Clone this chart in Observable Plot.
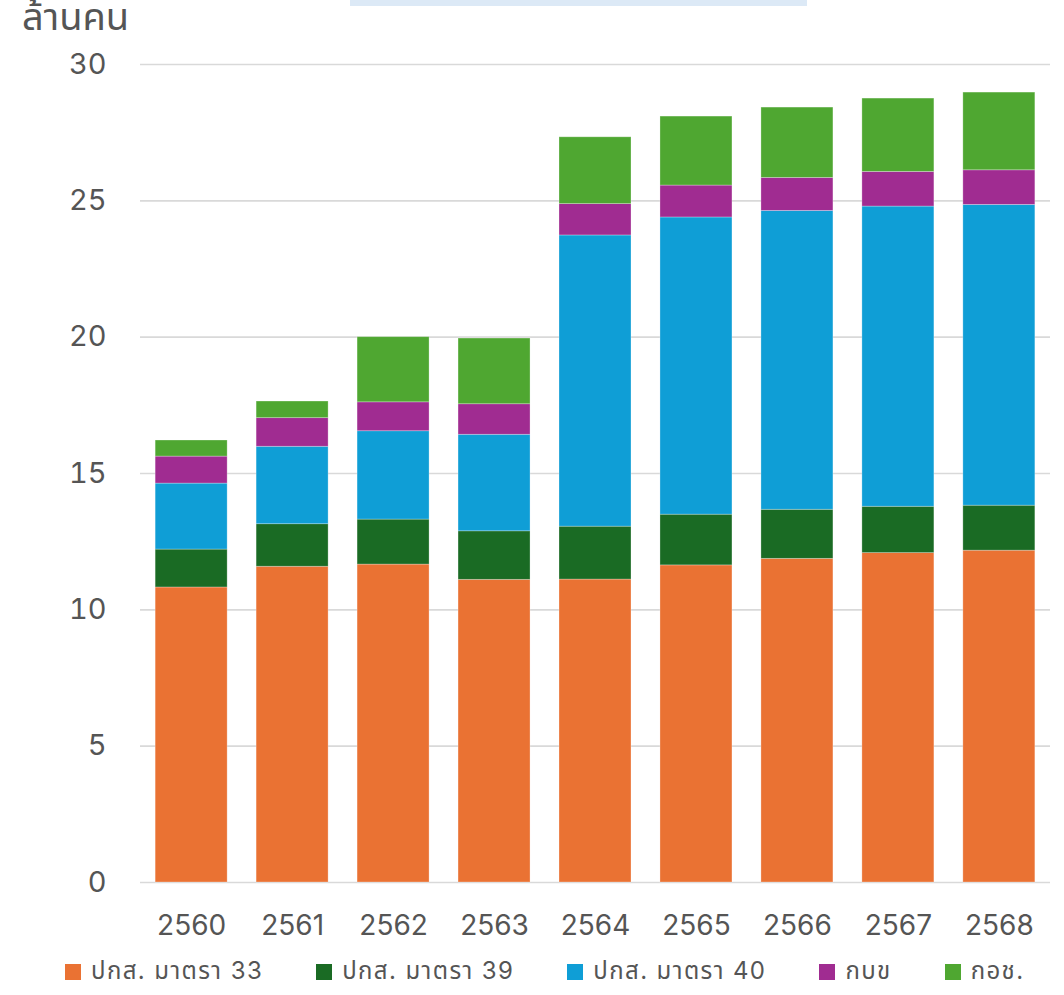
<!DOCTYPE html>
<html><head><meta charset="utf-8">
<script src="https://cdn.jsdelivr.net/npm/d3@7"></script>
<script src="https://cdn.jsdelivr.net/npm/@observablehq/plot@0.6"></script>
<style>
body{margin:0;background:#fff;font-family:Inter,"Noto Sans Thai","Noto Sans",sans-serif;}
#wrap{position:relative;width:1064px;}
#band{position:absolute;left:350px;top:0;width:457px;height:6px;background:#dce9f6;}
#ylab{position:absolute;left:22px;top:-4px;font-size:38px;color:#555;line-height:1.1;white-space:nowrap;}
#legend{display:flex;align-items:center;height:44px;padding-left:65px;font-size:24px;color:#555;letter-spacing:1.4px;white-space:nowrap;}
.item{display:flex;align-items:center;margin-right:53px;flex-shrink:0;white-space:nowrap;}
.sw{width:16px;height:16px;margin-right:10px;flex-shrink:0;}
</style></head>
<body>
<div id="wrap">
  <div id="band"></div>
  <div id="ylab">ล้านคน</div>
  <div id="chart"></div>
  <div id="legend"></div>
</div>
<script>
const years = ["2560","2561","2562","2563","2564","2565","2566","2567","2568"];
const seriesNames = ["ปกส. มาตรา 33","ปกส. มาตรา 39","ปกส. มาตรา 40","กบข","กอช."];
const seriesColors = ["#EA7233","#1A6B24","#0F9ED6","#A02C91","#4FA731"];
const sec33 = [10.82, 11.58, 11.66, 11.10, 11.11, 11.63, 11.87, 12.08, 12.17];
const sec39 = [1.39, 1.56, 1.65, 1.78, 1.94, 1.86, 1.80, 1.70, 1.65];
const sec40 = [2.42, 2.84, 3.24, 3.54, 10.68, 10.90, 10.96, 11.01, 11.03];
const gpf = [0.99, 1.05, 1.06, 1.12, 1.15, 1.17, 1.21, 1.27, 1.27];
const nsf = [0.59, 0.61, 2.39, 2.41, 2.45, 2.53, 2.58, 2.69, 2.85];
const yTicks = [0, 5, 10, 15, 20, 25, 30];

const lists = [sec33, sec39, sec40, gpf, nsf];
const rows = [];
years.forEach((yr, i) => seriesNames.forEach((s, j) => rows.push({year: yr, series: s, value: lists[j][i]})));

const chart = Plot.plot({
  width: 1064, height: 950,
  marginTop: 64, marginBottom: 68, marginLeft: 140, marginRight: 14,
  style: {fontFamily: 'Inter,"Noto Sans Thai","Noto Sans",sans-serif', background: "#fff"},
  x: {domain: years, paddingInner: 0.287, paddingOuter: 0.15, round: false, label: null},
  y: {domain: [0, 30], label: null},
  color: {domain: seriesNames, range: seriesColors},
  marks: [
    Plot.gridY(yTicks, {stroke: "#d9d9d9", strokeOpacity: 1, strokeWidth: 1.6}),
    Plot.barY(rows, {x: "year", y: "value", fill: "series", stroke: "#fff", strokeOpacity: 0.35, strokeWidth: 0.8}),
    Plot.axisY(yTicks, {tickSize: 0, tickPadding: 34, fontSize: 29, fill: "#555", label: null}),
    Plot.axisX({tickSize: 0, tickPadding: 33, fontSize: 28, fill: "#555", label: null})
  ]
});
document.getElementById("chart").appendChild(chart);

const legend = document.getElementById("legend");
seriesNames.forEach((s, j) => {
  const it = document.createElement("div"); it.className = "item";
  const sw = document.createElement("div"); sw.className = "sw"; sw.style.background = seriesColors[j];
  const tx = document.createElement("span"); tx.textContent = s;
  it.appendChild(sw); it.appendChild(tx); legend.appendChild(it);
});
</script>
</body></html>
